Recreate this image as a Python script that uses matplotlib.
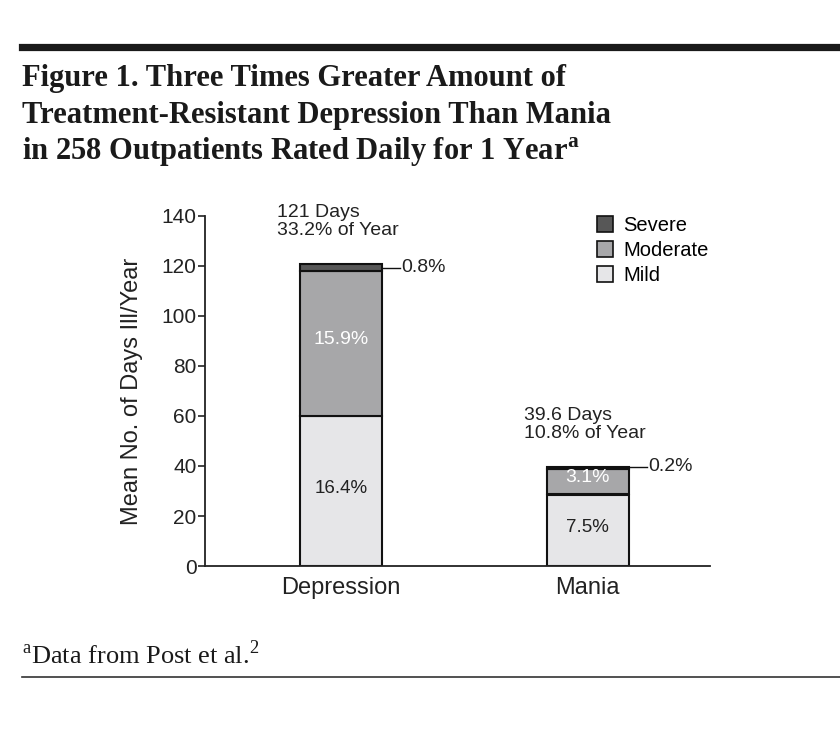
import matplotlib
matplotlib.use("Agg")
import matplotlib.pyplot as plt
from matplotlib.lines import Line2D
from matplotlib.patches import Patch

# data: mean days ill per year, by severity
categories = ["Depression", "Mania"]
mild = [59.9, 28.6]
moderate = [58.0, 10.3]
severe = [2.9, 0.7]
totals = [121, 39.6]
mild_pct = ["16.4%", "7.5%"]
moderate_pct = ["15.9%", "3.1%"]
severe_pct = ["0.8%", "0.2%"]
total_labels = ["121 Days\n33.2% of Year", "39.6 Days\n10.8% of Year"]
yticks = [0, 20, 40, 60, 80, 100, 120, 140]

c_mild = "#e6e6e8"
c_mod = "#a7a7a9"
c_sev = "#575757"
sans = "Liberation Sans"
serif = "Liberation Serif"

fig = plt.figure(figsize=(8.4, 7.4), dpi=100)
fig.patch.set_facecolor("white")
ax = fig.add_axes([205 / 840, 1 - 566 / 740, 505 / 840, 350 / 740])

x = list(range(len(categories)))
w = 0.33
bot2 = [a + b for a, b in zip(mild, moderate)]
ax.bar(x, mild, w, color=c_mild, edgecolor="#111111", linewidth=1.5, zorder=2)
ax.bar(x, moderate, w, bottom=mild, color=c_mod, edgecolor="#111111", linewidth=1.5, zorder=2)
ax.bar(x, severe, w, bottom=bot2, color=c_sev, edgecolor="#111111", linewidth=1.5, zorder=2)

for i in x:
    ax.text(i, mild[i] / 2 + 1, mild_pct[i], ha="center", va="center",
            fontsize=13.5, family=sans, color="#222222")
    ax.text(i, mild[i] + moderate[i] / 2 + 1.5, moderate_pct[i], ha="center", va="center",
            fontsize=14, family=sans, color="white")
    yl = bot2[i] + severe[i] / 2 if severe[i] > 1.5 else bot2[i] + severe[i]
    ax.plot([i + w / 2, i + w / 2 + 0.075], [yl, yl], color="#111111", lw=1.0,
            clip_on=False, zorder=3)
    ax.text(i + w / 2 + 0.08, yl, severe_pct[i], ha="left", va="center",
            fontsize=14, family=sans, color="#222222")
    ax.text(i - 0.26, totals[i] + 9.8, total_labels[i], ha="left", va="bottom",
            fontsize=14, family=sans, color="#222222", linespacing=1.1, clip_on=False)

ax.set_xlim(-0.55, 1.495)
ax.set_ylim(0, 140)
ax.set_yticks(yticks)
ax.set_xticks(x)
ax.set_xticklabels(categories, family=sans, fontsize=17)
for lab in ax.get_yticklabels():
    lab.set_family(sans)
    lab.set_fontsize(15)
ax.tick_params(axis="x", length=0, pad=8, colors="#222222")
ax.tick_params(axis="y", direction="out", length=5, width=1.2, pad=1, colors="#222222")
ax.set_ylabel("Mean No. of Days Ill/Year", family=sans, fontsize=17, color="#222222", labelpad=13)
for s in ["top", "right"]:
    ax.spines[s].set_visible(False)
for s in ["left", "bottom"]:
    ax.spines[s].set_linewidth(1.3)
    ax.spines[s].set_color("#222222")

handles = [Patch(facecolor=c, edgecolor="#111111", linewidth=1.2) for c in (c_sev, c_mod, c_mild)]
ax.legend(handles, ["Severe", "Moderate", "Mild"], loc="upper left",
          bbox_to_anchor=(597 / 840, 1 - 216 / 740), bbox_transform=fig.transFigure,
          frameon=False, borderpad=0, borderaxespad=0, handlelength=0.8, handleheight=0.8,
          handletextpad=0.5, labelspacing=0.3, prop={"family": sans, "size": 14.5})

# header / footer decoration
fig.add_artist(Line2D([22 / 840, 1], [1 - 47 / 740] * 2, color="#1a1a1a", lw=5.2))
fig.add_artist(Line2D([22 / 840, 1], [1 - 677 / 740] * 2, color="#333333", lw=1.2))

title_lines = ["Figure 1. Three Times Greater Amount of",
               "Treatment-Resistant Depression Than Mania",
               r"in 258 Outpatients Rated Daily for 1 Year$^{\mathregular{a}}$"]
for k, line in enumerate(title_lines):
    fig.text(22 / 840, 1 - (86 + 37 * k) / 740, line, ha="left", va="baseline",
             family=serif, weight="bold", fontsize=22, color="#1a1a1a")

fig.text(22 / 840, 1 - 664 / 740, r"$^{\mathregular{a}}$Data from Post et al.$^{\mathregular{2}}$",
         ha="left", va="baseline", family=serif, fontsize=19, color="#1a1a1a")

fig.savefig("out.png", dpi=100, facecolor="white")
